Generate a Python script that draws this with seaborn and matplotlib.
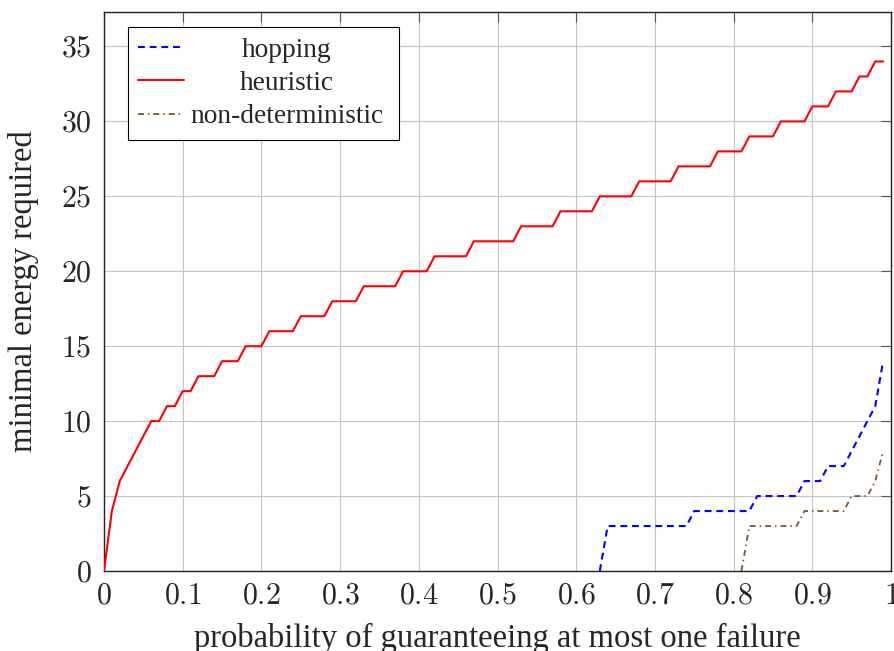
import numpy as np
import pandas as pd
import seaborn as sns
import matplotlib
matplotlib.use("Agg")
import matplotlib.pyplot as plt
from matplotlib.ticker import FuncFormatter
from matplotlib.offsetbox import VPacker

# ---- data ----
heur_x = [0, 0.01, 0.02, 0.06, 0.07, 0.08, 0.09, 0.10, 0.11, 0.12, 0.14, 0.15, 0.17,
          0.18, 0.20, 0.21, 0.24, 0.25, 0.28, 0.29, 0.32, 0.33, 0.37, 0.38, 0.41,
          0.42, 0.46, 0.47, 0.52, 0.53, 0.57, 0.58, 0.62, 0.63, 0.67, 0.68, 0.72,
          0.73, 0.77, 0.78, 0.81, 0.82, 0.85, 0.86, 0.89, 0.90, 0.92, 0.93, 0.95,
          0.96, 0.97, 0.98, 0.99]
heur_y = [0, 4, 6, 10, 10, 11, 11, 12, 12, 13, 13, 14, 14,
          15, 15, 16, 16, 17, 17, 18, 18, 19, 19, 20, 20,
          21, 21, 22, 22, 23, 23, 24, 24, 25, 25, 26, 26,
          27, 27, 28, 28, 29, 29, 30, 30, 31, 31, 32, 32,
          33, 33, 34, 34]

hop_x = [0.63, 0.64, 0.74, 0.75, 0.82, 0.83, 0.88, 0.89, 0.91, 0.92, 0.94, 0.95,
         0.96, 0.97, 0.98, 0.99]
hop_y = [0, 3, 3, 4, 4, 5, 5, 6, 6, 7, 7, 8, 9, 10, 11, 14]

nd_x = [0.81, 0.82, 0.88, 0.89, 0.94, 0.95, 0.97, 0.98, 0.99]
nd_y = [0, 3, 3, 4, 4, 5, 5, 6, 8]

labels = ["hopping", "heuristic", "non-deterministic"]
x_ticks = [0, 0.1, 0.2, 0.3, 0.4, 0.5, 0.6, 0.7, 0.8, 0.9, 1.0]
y_ticks = [0, 5, 10, 15, 20, 25, 30, 35]

# ---- style ----
sns.set_style("white")
plt.rcParams["mathtext.fontset"] = "cm"
plt.rcParams["font.family"] = ["Liberation Serif", "DejaVu Serif"]

fig = plt.figure(figsize=(8.94, 6.51), dpi=100)
ax = fig.add_axes([104 / 894, 80 / 651, 787 / 894, 559 / 651])

blue = "#0000FF"
red = "#FF0000"
brown = "#7B5530"

sns.lineplot(x=hop_x, y=hop_y, ax=ax, color=blue, lw=1.5, estimator=None, sort=False,
             linestyle=(0, (3.3, 2.3)), label=labels[0], zorder=3)
sns.lineplot(x=heur_x, y=heur_y, ax=ax, color=red, lw=1.5, estimator=None, sort=False,
             linestyle="-", label=labels[1], zorder=3)
sns.lineplot(x=nd_x, y=nd_y, ax=ax, color=brown, lw=1.3, estimator=None, sort=False,
             linestyle=(0, (3.3, 2.2, 0.8, 2.2)), label=labels[2], zorder=3)

ax.set_xlim(0, 1)
ax.set_ylim(0, 37.3)
ax.set_xticks(x_ticks)
ax.set_yticks(y_ticks)
fmt = FuncFormatter(lambda v, p: "$%g$" % v)
ax.xaxis.set_major_formatter(fmt)
ax.yaxis.set_major_formatter(fmt)
ax.tick_params(axis="both", which="major", direction="in", length=7, width=0.8,
               color="#555555", labelsize=21.5, top=True, right=True, pad=9)
ax.grid(True, color="#c4c4c4", lw=0.8)
ax.set_axisbelow(True)
for s in ax.spines.values():
    s.set_color("#222222")
    s.set_linewidth(1.0)

ax.set_xlabel("probability of guaranteeing at most one failure", fontsize=23.5, labelpad=10)
ax.set_ylabel("minimal energy required", fontsize=23.5, labelpad=16)

handles, _ = ax.get_legend_handles_labels()
leg = ax.legend(handles, labels, loc="upper left", bbox_to_anchor=(0.0305, 0.973),
                borderaxespad=0, frameon=True, fancybox=False, edgecolor="black",
                framealpha=1, fontsize=19.7, handlelength=1.66, handletextpad=0.05,
                borderpad=0.38, labelspacing=0.3)
leg.get_frame().set_linewidth(0.8)

# centre legend texts like pgfplots
fig.canvas.draw()
r = fig.canvas.get_renderer()
wmax = max(t.get_window_extent(r).width for t in leg.get_texts())
W = wmax + 10
col = leg._legend_handle_box.get_children()[0]
for row in col.get_children():
    h, t = row.get_children()
    row._children = [h, VPacker(pad=0, sep=0, width=W, align="center", children=[t])]

fig.savefig("out.png", dpi=100)
